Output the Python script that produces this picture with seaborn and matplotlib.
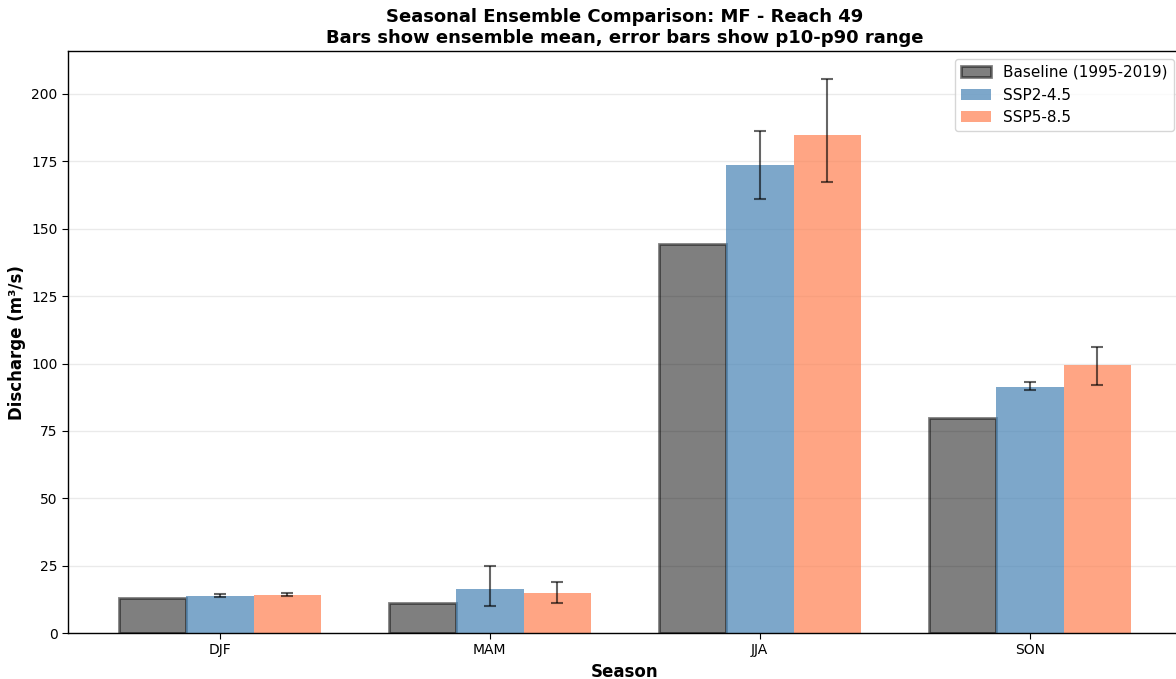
import numpy as np
import pandas as pd
import matplotlib
matplotlib.use("Agg")
import matplotlib.pyplot as plt
import seaborn as sns

# Seasonal discharge (m³/s): ensemble means and p10/p90 spread
seasons = ["DJF", "MAM", "JJA", "SON"]
scenarios = ["Baseline (1995-2019)", "SSP2-4.5", "SSP5-8.5"]

baseline_mean = [13.0, 11.3, 144.5, 79.6]
ssp245_mean = [13.6, 16.3, 173.7, 91.3]
ssp245_p10 = [13.2, 10.0, 161.0, 90.2]
ssp245_p90 = [14.6, 24.9, 186.3, 93.1]
ssp585_mean = [14.1, 14.7, 184.8, 99.3]
ssp585_p10 = [13.7, 11.3, 167.5, 92.2]
ssp585_p90 = [14.9, 19.1, 205.6, 106.1]

df = pd.DataFrame({
    "Season": seasons * 3,
    "Scenario": np.repeat(scenarios, len(seasons)),
    "Discharge": baseline_mean + ssp245_mean + ssp585_mean,
})

sns.set_style("white", {"text.color": "black", "axes.labelcolor": "black",
                        "xtick.color": "black", "ytick.color": "black",
                        "axes.edgecolor": "black"})
plt.rcParams["font.family"] = ["DejaVu Sans"]

fig = plt.figure(figsize=(11.76, 6.79), dpi=100)
ax = fig.add_axes([0.0578, 0.0677, 0.947, 0.857])

sns.barplot(
    data=df, x="Season", y="Discharge", hue="Scenario",
    order=seasons, hue_order=scenarios,
    palette=["black", "steelblue", "coral"],
    width=0.75, gap=0, errorbar=None, saturation=1, ax=ax,
)

bars_base, bars_245, bars_585 = ax.containers[:3]
for p in bars_base:
    p.set_alpha(0.5)
    p.set_edgecolor("black")
    p.set_linewidth(2)
for cont in (bars_245, bars_585):
    for p in cont:
        p.set_alpha(0.7)
        p.set_edgecolor("none")

# p10–p90 whiskers for the future scenarios
for cont, mean, lo, hi in ((bars_245, ssp245_mean, ssp245_p10, ssp245_p90),
                           (bars_585, ssp585_mean, ssp585_p10, ssp585_p90)):
    xs = [p.get_x() + p.get_width() / 2 for p in cont]
    m = np.array(mean)
    yerr = [m - np.array(lo), np.array(hi) - m]
    ax.errorbar(xs, m, yerr=yerr, fmt="none", ecolor="black",
                elinewidth=1.5, capsize=4, capthick=1.5, alpha=0.6)

ax.set_xlim(-0.5625, 3.5625)
ax.set_ylim(0, 215.9)

ax.set_title("Seasonal Ensemble Comparison: MF - Reach 49\n"
             "Bars show ensemble mean, error bars show p10-p90 range",
             fontsize=13, fontweight="bold", color="black")
ax.set_xlabel("Season", fontsize=12, fontweight="bold", color="black")
ax.set_ylabel("Discharge (m³/s)", fontsize=12, fontweight="bold", color="black")
ax.tick_params(axis="both", labelsize=10, length=4, direction="out",
               bottom=True, left=True, colors="black")
ax.yaxis.grid(True, color="#cccccc", alpha=0.4, linewidth=1)
ax.xaxis.grid(False)
ax.set_axisbelow(True)
for s in ax.spines.values():
    s.set_color("black")
    s.set_linewidth(1)

leg = ax.legend(handles=[bars_base, bars_245, bars_585], labels=scenarios,
                loc="upper right", fontsize=11, frameon=True)
for t in leg.get_texts():
    t.set_color("black")

fig.savefig("out.png", dpi=100)
